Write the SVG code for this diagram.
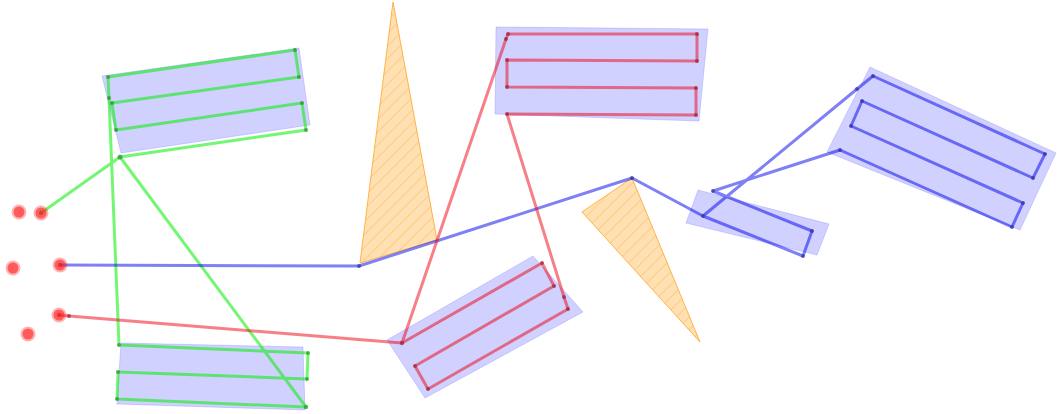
<svg xmlns="http://www.w3.org/2000/svg" width="1057" height="414" viewBox="0 0 1057 414">
<style>
.area{fill:#6666ff;fill-opacity:0.3;stroke:#6666ff;stroke-opacity:0.25;stroke-width:1}
.tri{fill:#ffe0b2;stroke:#ffb347;stroke-width:1}
.hatch{fill:url(#hatch);stroke:none}
.pg{fill:none;stroke:#00f000;stroke-opacity:0.55;stroke-width:3;stroke-linejoin:round}
.pb{fill:none;stroke:#0000ee;stroke-opacity:0.5;stroke-width:3;stroke-linejoin:round}
.pr{fill:none;stroke:#ee0011;stroke-opacity:0.5;stroke-width:3;stroke-linejoin:round}
.dg{fill:#1f7a1f;fill-opacity:0.6}
.db{fill:#222288;fill-opacity:0.6}
.dr{fill:#881122;fill-opacity:0.6}
.halo{fill:#ff0000;fill-opacity:0.3}
.core{fill:#ff2222;fill-opacity:0.6}
</style>
<defs>
<pattern id="hatch" patternUnits="userSpaceOnUse" width="9" height="9" patternTransform="rotate(45)">
<line x1="0" y1="0" x2="0" y2="9" stroke="#ffb040" stroke-opacity="0.85" stroke-width="1"/>
</pattern>
</defs>

<g id="areas">
<polygon id="area-tl" class="area" points="102,76 299,48 310,125 121,153"/>
<polygon id="area-bl" class="area" points="121,343 303,347 305,410 117,404"/>
<polygon id="area-tm" class="area" points="496,27 708,29 699,121 495,114"/>
<polygon id="area-bm" class="area" points="387,340 533,256 583,312 425,398"/>
<polygon id="area-sr" class="area" points="698,190 829,224 817,255 686,223"/>
<polygon id="area-r" class="area" points="870,67 1056,153 1020,230 827,152"/>
</g>

<g id="obstacles">
<g id="obstacle-1">
<polygon class="tri" points="393,2 437,240 360,263"/>
<polygon class="hatch" points="393,2 437,240 360,263"/>
</g>
<g id="obstacle-2">
<polygon class="tri" points="582,212 632,178 700,342"/>
<polygon class="hatch" points="582,212 632,178 700,342"/>
</g>
</g>

<g id="connectors">
<g id="path-green">
<polyline class="pg" points="41,213 120,157 306,130 302,103 116,130 112,103 299,77 295,50 108,77 109,98 119,345 308,353 307,379 118,372 117,399 306,407 120,157"/>
<g>
<circle class="dg" cx="41" cy="213" r="2.2"/>
<circle class="dg" cx="120" cy="157" r="2.5"/>
<circle class="dg" cx="306" cy="130" r="2"/>
<circle class="dg" cx="302" cy="103" r="2"/>
<circle class="dg" cx="116" cy="130" r="2"/>
<circle class="dg" cx="112" cy="103" r="2"/>
<circle class="dg" cx="299" cy="77" r="2"/>
<circle class="dg" cx="295" cy="50" r="2"/>
<circle class="dg" cx="108" cy="77" r="2"/>
<circle class="dg" cx="109" cy="98" r="2"/>
<circle class="dg" cx="119" cy="345" r="2"/>
<circle class="dg" cx="308" cy="353" r="2"/>
<circle class="dg" cx="307" cy="379" r="2"/>
<circle class="dg" cx="118" cy="372" r="2"/>
<circle class="dg" cx="117" cy="399" r="2"/>
<circle class="dg" cx="306" cy="407" r="2.2"/>
</g>
</g>
<g id="path-blue">
<polyline class="pb" points="60,265 359,266 632,178 703,216 857,89 873,76 1045,154 1033,178 862,101 851,126 1023,203 1012,227 840,150 713,191 812,231 803,256 703,216"/>
<g>
<circle class="db" cx="60" cy="265" r="2.2"/>
<circle class="db" cx="359" cy="266" r="2"/>
<circle class="db" cx="632" cy="178" r="2"/>
<circle class="db" cx="703" cy="216" r="2"/>
<circle class="db" cx="857" cy="89" r="2"/>
<circle class="db" cx="873" cy="76" r="2"/>
<circle class="db" cx="1045" cy="154" r="2"/>
<circle class="db" cx="1033" cy="178" r="2"/>
<circle class="db" cx="862" cy="101" r="2"/>
<circle class="db" cx="851" cy="126" r="2"/>
<circle class="db" cx="1023" cy="203" r="2"/>
<circle class="db" cx="1012" cy="227" r="2"/>
<circle class="db" cx="840" cy="150" r="2"/>
<circle class="db" cx="713" cy="191" r="2"/>
<circle class="db" cx="812" cy="231" r="2"/>
<circle class="db" cx="803" cy="256" r="2"/>
</g>
</g>
<g id="path-red">
<polyline class="pr" points="59,315 69,316 402,343 506,39 508,34 697,34 697,61 507,60 507,87 696,88 696,115 507,114 564,297 568,309 428,389 415,366 554,286 542,263 402,343"/>
<g>
<circle class="dr" cx="59" cy="315" r="2.2"/>
<circle class="dr" cx="69" cy="316" r="2"/>
<circle class="dr" cx="402" cy="343" r="2.2"/>
<circle class="dr" cx="506" cy="39" r="2"/>
<circle class="dr" cx="508" cy="34" r="2"/>
<circle class="dr" cx="697" cy="34" r="2"/>
<circle class="dr" cx="697" cy="61" r="2"/>
<circle class="dr" cx="507" cy="60" r="2"/>
<circle class="dr" cx="507" cy="87" r="2"/>
<circle class="dr" cx="696" cy="88" r="2"/>
<circle class="dr" cx="696" cy="115" r="2"/>
<circle class="dr" cx="507" cy="114" r="2"/>
<circle class="dr" cx="564" cy="297" r="2"/>
<circle class="dr" cx="568" cy="309" r="2"/>
<circle class="dr" cx="428" cy="389" r="2"/>
<circle class="dr" cx="415" cy="366" r="2"/>
<circle class="dr" cx="554" cy="286" r="2"/>
<circle class="dr" cx="542" cy="263" r="2"/>
</g>
</g>
</g>

<g id="robots">
<g id="robot-1"><circle class="halo" cx="19" cy="212" r="7.5"/><circle class="core" cx="19" cy="212" r="5.5"/></g>
<g id="robot-2"><circle class="halo" cx="41" cy="213" r="7.5"/><circle class="core" cx="41" cy="213" r="5.5"/></g>
<g id="robot-3"><circle class="halo" cx="13" cy="268" r="7.5"/><circle class="core" cx="13" cy="268" r="5.5"/></g>
<g id="robot-4"><circle class="halo" cx="60" cy="265" r="7.5"/><circle class="core" cx="60" cy="265" r="5.5"/></g>
<g id="robot-5"><circle class="halo" cx="59" cy="315" r="7.5"/><circle class="core" cx="59" cy="315" r="5.5"/></g>
<g id="robot-6"><circle class="halo" cx="28" cy="334" r="7.5"/><circle class="core" cx="28" cy="334" r="5.5"/></g>
</g>
</svg>
